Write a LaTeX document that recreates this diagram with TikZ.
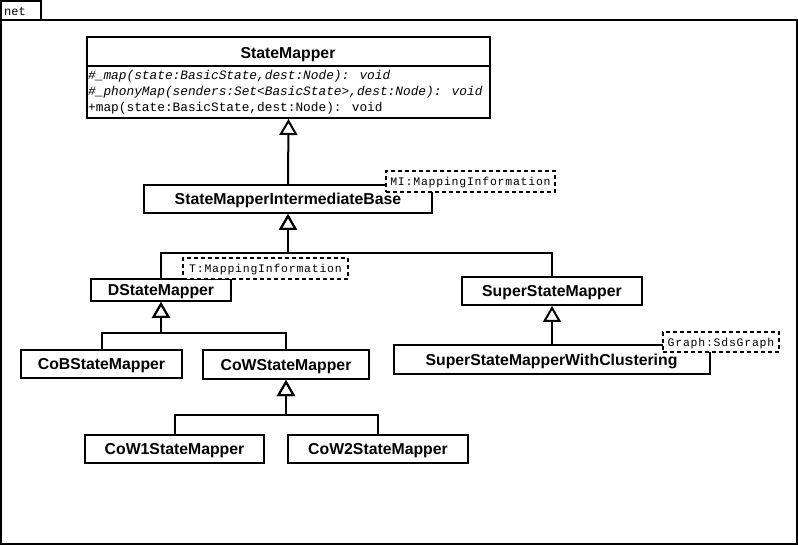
\documentclass[tikz,border=0pt]{standalone}
\usepackage{fontspec}
\usetikzlibrary{arrows.meta}
\newfontfamily\clsfont{Liberation Sans}
\newfontfamily\monofont{Liberation Mono}
\newfontfamily\tplfont[LetterSpace=6.7]{Liberation Mono}
\begin{document}
\begin{tikzpicture}[x=1pt,y=-1pt,
  cls/.style={draw, line width=2pt, fill=white, inner sep=0pt,
    font=\clsfont\bfseries\fontsize{15.8}{18}\selectfont,
    text height=11.3pt, text depth=0pt},
  tpl/.style={draw, dash pattern=on 4pt off 3pt, line width=2pt, fill=white,
    inner sep=0pt, font=\tplfont\fontsize{11.5}{13}\selectfont,
    text height=9pt, text depth=0pt},
  meth/.style={anchor=base west, inner sep=0pt, font=\monofont\fontsize{12.8}{15}\selectfont},
  gen/.style={line width=2pt, -{Triangle[open, length=16pt, width=18pt]}},
  frm/.style={line width=2.8pt}]
\useasboundingbox (0,0) rectangle (798,545);
% frame
\draw[frm] (1,20) rectangle (797,544);
\draw[frm] (1,1) rectangle (41,20);
\node[anchor=base west, inner sep=0pt, font=\monofont\fontsize{12}{14}\selectfont] (netlbl) at (4,16) {net};

% StateMapper
\node[cls, minimum width=403pt, minimum height=81pt] (sm) at (288.5,77.5) {};
\draw[line width=2pt] (sm.west |- 0,66) -- (sm.east |- 0,66);
\node[inner sep=0pt, font=\clsfont\bfseries\fontsize{15.8}{18}\selectfont, text height=11.3pt, text depth=0pt] (smtitle) at (288,52.5) {StateMapper};
\node[meth] (m1) at (88,80) {\itshape \#\_map(state:BasicState,dest:Node): void};
\node[meth] (m2) at (88,96) {\itshape \#\_phonyMap(senders:Set<BasicState>,dest:Node): void};
\node[meth] (m3) at (88,112) {+map(state:BasicState,dest:Node): void};

% classes
\node[cls, minimum width=288pt, minimum height=28pt] (smib) at (288,199) {StateMapperIntermediateBase};
\node[tpl, minimum width=169pt, minimum height=21pt] (mi) at (470.5,181.5) {MI:MappingInformation};

\node[cls, minimum width=140pt, minimum height=22pt] (dsm) at (161,290) {DStateMapper};
\node[tpl, minimum width=165pt, minimum height=21pt] (t) at (265.5,268.5) {T:MappingInformation};

\node[cls, minimum width=180pt, minimum height=28pt] (ssm) at (552,291) {SuperStateMapper};
\node[cls, minimum width=316pt, minimum height=29pt] (ssmwc) at (551.5,359.5) {SuperStateMapperWithClustering};
\node[tpl, minimum width=116pt, minimum height=20pt] (graph) at (721,342) {Graph:SdsGraph};

\node[cls, minimum width=161pt, minimum height=28pt] (cob) at (101.5,364) {CoBStateMapper};
\node[cls, minimum width=166pt, minimum height=29pt] (cow) at (286,364.5) {CoWStateMapper};
\node[cls, minimum width=179pt, minimum height=28pt] (cow1) at (174.5,449) {CoW1StateMapper};
\node[cls, minimum width=180pt, minimum height=28pt] (cow2) at (378,449) {CoW2StateMapper};

% connectors
\coordinate (bus1) at (288,253);
\coordinate (bus2) at (161,333);
\coordinate (bus3) at (286,415);
\draw[gen] (smib.north) -- (sm.south);
\draw[gen] (dsm.north) |- (bus1) -- (smib.south);
\draw[gen] (ssm.north) |- (bus1) -- (smib.south);
\draw[gen] (cob.north) |- (bus2) -- (dsm.south);
\draw[gen] (cow.north) |- (bus2) -- (dsm.south);
\draw[gen] (cow1.north) |- (bus3) -- (cow.south);
\draw[gen] (cow2.north) |- (bus3) -- (cow.south);
\draw[gen] (ssmwc.north -| ssm.south) -- (ssm.south);
\end{tikzpicture}
\end{document}
